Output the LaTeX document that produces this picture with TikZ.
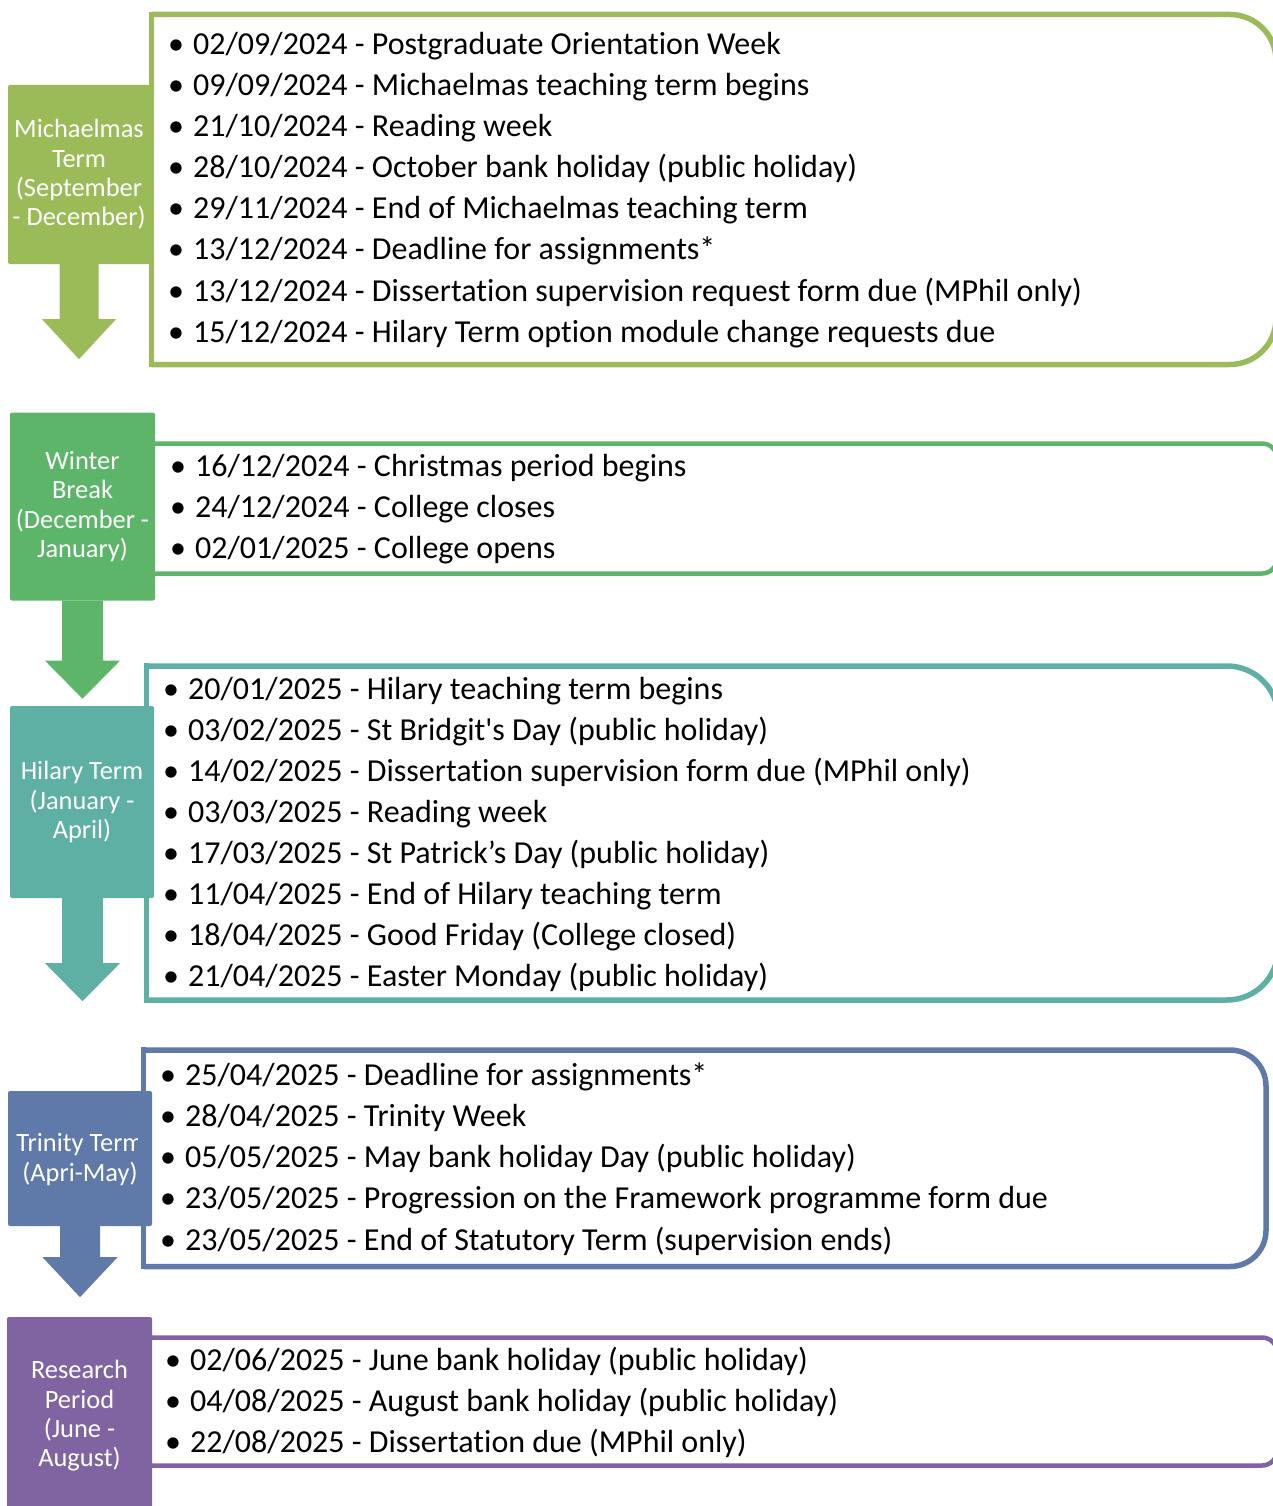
\documentclass[tikz,border=0pt]{standalone}
\usepackage{fontspec}
\setmainfont{Carlito}[Ligatures={TeX,NoCommon},RawFeature={-calt;-dlig;-rlig}]
\usepackage{tikz}
\usetikzlibrary{calc}

\definecolor{michgreen}{RGB}{155,187,89}
\definecolor{wintgreen}{RGB}{93,181,106}
\definecolor{hilteal}{RGB}{94,176,165}
\definecolor{trinblue}{RGB}{95,121,169}
\definecolor{respurple}{RGB}{128,100,162}

\tikzset{
  termframe/.style={line width=5.5pt},
  termlabel/.style={rectangle, rounded corners=2pt, inner sep=0pt, text=white, align=center,
    font=\fontsize{26.4}{29.3}\selectfont},
  dateline/.style={anchor=base west, inner sep=0pt, font=\fontsize{32}{41}\selectfont,
    execute at begin node={\makebox[25pt][l]{•}}},
}

\begin{document}
\begin{tikzpicture}[line cap=butt,line join=miter,x=1pt,y=-1pt]
    \clip (0,0) rectangle (1273,1506);
    % frames
    \draw [termframe,michgreen,rounded corners=46] (151.5,14.5)-- (1276,14.5)-- (1276,364.5)-- (151.5,364.5);
    \draw [termframe,michgreen,line cap=rect] (151.5,364.5)-- (151.5,14.5);
    \draw [termframe,wintgreen,line width=4.5pt,rounded corners=15] (155,443.5)-- (1277,443.5)-- (1277,573.5)-- (155,573.5);
    \draw [termframe,hilteal,rounded corners=51] (146.5,666)-- (1278,666)-- (1278,1000)-- (146.5,1000);
    \draw [termframe,hilteal,line cap=rect] (146.5,1000)-- (146.5,666);
    \draw [termframe,trinblue,rounded corners=36] (143.5,1050)-- (1266,1050)-- (1266,1266.5)-- (143.5,1266.5);
    \draw [termframe,trinblue,line cap=rect] (143.5,1266.5)-- (143.5,1050);
    \draw [termframe,respurple,line width=4.5pt,rounded corners=15] (152,1337.5)-- (1277,1337.5)-- (1277,1465.5)-- (152,1465.5);
    % term labels
    \node [termlabel,fill=michgreen,minimum width=142,minimum height=179] (mlab) at (79,174.5) {Michaelmas\\Term\\(September\\- December)};
    \node [termlabel,fill=wintgreen,minimum width=145,minimum height=188] (wlab) at (82.5,506.5) {Winter\\Break\\(December -\\January)};
    \node [termlabel,fill=hilteal,minimum width=144,minimum height=192] (hlab) at (82,802) {Hilary Term\\(January -\\April)};
    \node [termlabel,fill=trinblue,minimum width=144,minimum height=135] (tlab) at (80,1158.5) {};
    \begin{scope}
    \clip (0,1080) rectangle (137.5,1240);
    \node [termlabel] (ttext) at (80,1159.5) {Trinity Term\\(Apri-May)};
    \end{scope}
    \node [termlabel,fill=respurple,minimum width=145,minimum height=198] (rlab) at (79.5,1416) {Research\\Period\\(June -\\August)};
    % block arrows
    \fill [michgreen] ([xshift=-19.5pt]mlab.south)-- ++(0,55)-- ++(-17.5,0)-- ++(37,40)-- ++(37,-40)-- ++(-17.5,0)-- ++(0,-55)-- cycle;
    \fill [wintgreen] ([xshift=-20.5pt]wlab.south)-- ++(0,60)-- ++(-17,0)-- ++(37.5,38)-- ++(37.5,-38)-- ++(-17,0)-- ++(0,-60)-- cycle;
    \fill [hilteal] ([xshift=-20pt]hlab.south)-- ++(0,65)-- ++(-17,0)-- ++(37.5,38)-- ++(37.5,-38)-- ++(-17,0)-- ++(0,-65)-- cycle;
    \fill [trinblue] ([xshift=-20pt]tlab.south)-- ++(0,31)-- ++(-17.5,0)-- ++(37.5,40)-- ++(37.5,-40)-- ++(-17.5,0)-- ++(0,-31)-- cycle;
    % Michaelmas dates
    \node [dateline] (m1) at (168,55) {02/09/2024 - Postgraduate Orientation Week};
    \node [dateline] (m2) at (168,96) {09/09/2024 - Michaelmas teaching term begins};
    \node [dateline] (m3) at (168,137) {21/10/2024 - Reading week};
    \node [dateline] (m4) at (168,178) {28/10/2024 - October bank holiday (public holiday)};
    \node [dateline] (m5) at (168,219) {29/11/2024 - End of Michaelmas teaching term};
    \node [dateline] (m6) at (168,260) {13/12/2024 - Deadline for assignments*};
    \node [dateline] (m7) at (168,301) {13/12/2024 - Dissertation supervision request form due (MPhil only)};
    \node [dateline] (m8) at (168,342) {15/12/2024 - Hilary Term option module change requests due};
    % Winter dates
    \node [dateline] (w1) at (170,476) {16/12/2024 - Christmas period begins};
    \node [dateline] (w2) at (170,517) {24/12/2024 - College closes};
    \node [dateline] (w3) at (170,558) {02/01/2025 - College opens};
    % Hilary dates
    \node [dateline] (h1) at (163,699) {20/01/2025 - Hilary teaching term begins};
    \node [dateline] (h2) at (163,740) {03/02/2025 - St Bridgit\textquotesingle s Day (public holiday)};
    \node [dateline] (h3) at (163,781) {14/02/2025 - Dissertation supervision form due (MPhil only)};
    \node [dateline] (h4) at (163,822) {03/03/2025 - Reading week};
    \node [dateline] (h5) at (163,863) {17/03/2025 - St Patrick’s Day (public holiday)};
    \node [dateline] (h6) at (163,904) {11/04/2025 - End of Hilary teaching term};
    \node [dateline] (h7) at (163,945) {18/04/2025 - Good Friday (College closed)};
    \node [dateline] (h8) at (163,986) {21/04/2025 - Easter Monday (public holiday)};
    % Trinity dates
    \node [dateline] (t1) at (160,1085) {25/04/2025 - Deadline for assignments*};
    \node [dateline] (t2) at (160,1126) {28/04/2025 - Trinity Week};
    \node [dateline] (t3) at (160,1167) {05/05/2025 - May bank holiday Day (public holiday)};
    \node [dateline] (t4) at (160,1208) {23/05/2025 - Progression on the Framework programme form due};
    \node [dateline] (t5) at (160,1250) {23/05/2025 - End of Statutory Term (supervision ends)};
    % Research dates
    \node [dateline] (r1) at (165,1370) {02/06/2025 - June bank holiday (public holiday)};
    \node [dateline] (r2) at (165,1411) {04/08/2025 - August bank holiday (public holiday)};
    \node [dateline] (r3) at (165,1452) {22/08/2025 - Dissertation due (MPhil only)};
\end{tikzpicture}
\end{document}
